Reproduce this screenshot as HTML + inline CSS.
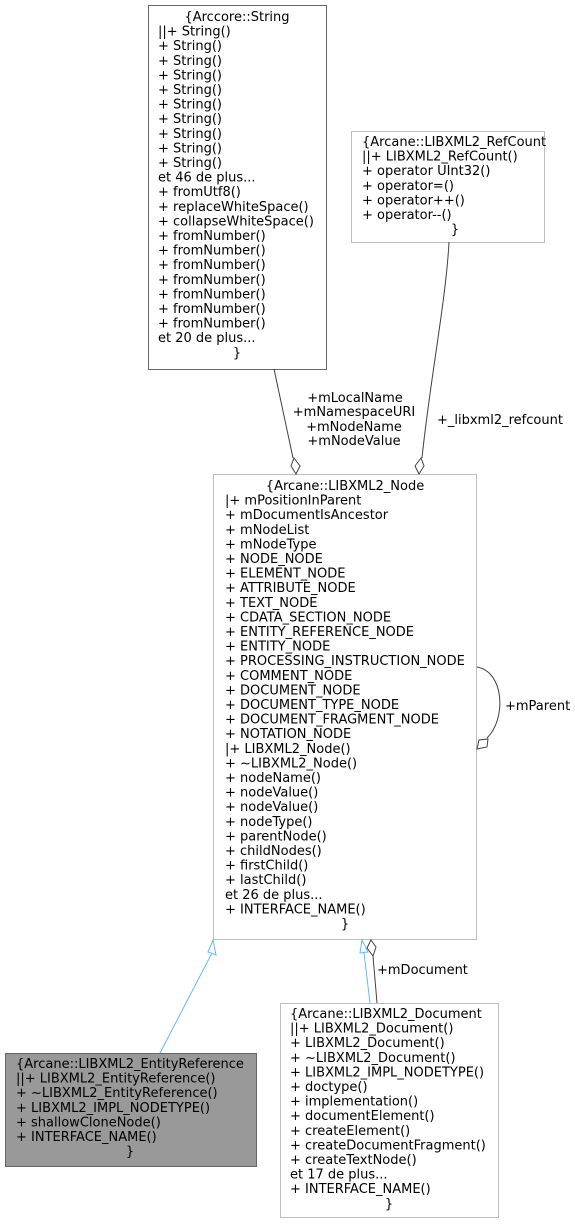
<!DOCTYPE html>
<html><head><meta charset="utf-8"><style>
html,body{margin:0;padding:0;background:#fff;}
svg text{font-family:"DejaVu Sans","Liberation Sans",sans-serif;font-size:13px;fill:#000;}
</style></head><body>
<svg width="575" height="1224" viewBox="0 0 575 1224" xmlns="http://www.w3.org/2000/svg">
<rect x="148.5" y="5.5" width="178" height="364" fill="#fff" stroke="#666"/>
<rect x="351.5" y="131.5" width="193" height="111" fill="#fff" stroke="#bfbfbf"/>
<rect x="213.5" y="474.5" width="263" height="465" fill="#fff" stroke="#bfbfbf"/>
<rect x="5.5" y="1053.5" width="251" height="113" fill="#999" stroke="#666"/>
<rect x="280.5" y="1003.5" width="218" height="214" fill="#fff" stroke="#bfbfbf"/>

<g fill="none" stroke="#404040">
<path d="M274,369 L293,458"/>
<path d="M296,474 L291,466 L294,458 L300,466 Z" fill="#fff"/>
<path d="M449,242 C446,300 430,380 422,458"/>
<path d="M419,474 L415,466 L421,458 L424,466 Z" fill="#fff"/>
<path d="M477,667 C505,672 506,720 487,738"/>
<path d="M477,749 L479,740 L488,739 L487,747 Z" fill="#fff"/>
<path d="M377,1003 L373,956"/>
<path d="M371,940 L376,947 L373,956 L367,948 Z" fill="#fff"/>
</g>
<g fill="none" stroke="#63b8ff">
<path d="M160,1053 L212,953"/>
<path d="M213,940 L208,952 L216,955 Z" fill="#fff"/>
<path d="M370,1003 L364,953"/>
<path d="M362,940 L360,953 L368,952 Z" fill="#fff"/>
</g>

<g text-anchor="middle">
<text x="355" y="402">+mLocalName</text>
<text x="354" y="416">+mNamespaceURI</text>
<text x="354" y="431">+mNodeName</text>
<text x="354" y="445">+mNodeValue</text>
</g>
<text x="437" y="424">+_libxml2_refcount</text>
<text x="505" y="710">+mParent</text>
<text x="377" y="974">+mDocument</text>

<text x="237" y="21" text-anchor="middle">{Arccore::String</text>
<text x="158" y="21"><tspan x="158" dy="14.6">||+ String()</tspan><tspan x="158" dy="14.6">+ String()</tspan><tspan x="158" dy="14.6">+ String()</tspan><tspan x="158" dy="14.6">+ String()</tspan><tspan x="158" dy="14.6">+ String()</tspan><tspan x="158" dy="14.6">+ String()</tspan><tspan x="158" dy="14.6">+ String()</tspan><tspan x="158" dy="14.6">+ String()</tspan><tspan x="158" dy="14.6">+ String()</tspan><tspan x="158" dy="14.6">+ String()</tspan><tspan x="158" dy="14.6">et 46 de plus...</tspan><tspan x="158" dy="14.6">+ fromUtf8()</tspan><tspan x="158" dy="14.6">+ replaceWhiteSpace()</tspan><tspan x="158" dy="14.6">+ collapseWhiteSpace()</tspan><tspan x="158" dy="14.6">+ fromNumber()</tspan><tspan x="158" dy="14.6">+ fromNumber()</tspan><tspan x="158" dy="14.6">+ fromNumber()</tspan><tspan x="158" dy="14.6">+ fromNumber()</tspan><tspan x="158" dy="14.6">+ fromNumber()</tspan><tspan x="158" dy="14.6">+ fromNumber()</tspan><tspan x="158" dy="14.6">+ fromNumber()</tspan><tspan x="158" dy="14.6">et 20 de plus...</tspan><tspan x="237" dy="15" text-anchor="middle">}</tspan></text>

<text x="362" y="146">{Arcane::LIBXML2_RefCount<tspan x="362" dy="14.6">||+ LIBXML2_RefCount()</tspan><tspan x="362" dy="14.6">+ operator UInt32()</tspan><tspan x="362" dy="14.6">+ operator=()</tspan><tspan x="362" dy="14.6">+ operator++()</tspan><tspan x="362" dy="14.6">+ operator--()</tspan><tspan x="455" dy="14.6" text-anchor="middle">}</tspan></text>

<text x="345" y="490" text-anchor="middle">{Arcane::LIBXML2_Node</text>
<text x="225" y="490"><tspan x="225" dy="14.6">|+ mPositionInParent</tspan><tspan x="225" dy="14.6">+ mDocumentIsAncestor</tspan><tspan x="225" dy="14.6">+ mNodeList</tspan><tspan x="225" dy="14.6">+ mNodeType</tspan><tspan x="225" dy="14.6">+ NODE_NODE</tspan><tspan x="225" dy="14.6">+ ELEMENT_NODE</tspan><tspan x="225" dy="14.6">+ ATTRIBUTE_NODE</tspan><tspan x="225" dy="14.6">+ TEXT_NODE</tspan><tspan x="225" dy="14.6">+ CDATA_SECTION_NODE</tspan><tspan x="225" dy="14.6">+ ENTITY_REFERENCE_NODE</tspan><tspan x="225" dy="14.6">+ ENTITY_NODE</tspan><tspan x="225" dy="14.6">+ PROCESSING_INSTRUCTION_NODE</tspan><tspan x="225" dy="14.6">+ COMMENT_NODE</tspan><tspan x="225" dy="14.6">+ DOCUMENT_NODE</tspan><tspan x="225" dy="14.6">+ DOCUMENT_TYPE_NODE</tspan><tspan x="225" dy="14.6">+ DOCUMENT_FRAGMENT_NODE</tspan><tspan x="225" dy="14.6">+ NOTATION_NODE</tspan><tspan x="225" dy="14.6">|+ LIBXML2_Node()</tspan><tspan x="225" dy="14.6">+ ~LIBXML2_Node()</tspan><tspan x="225" dy="14.6">+ nodeName()</tspan><tspan x="225" dy="14.6">+ nodeValue()</tspan><tspan x="225" dy="14.6">+ nodeValue()</tspan><tspan x="225" dy="14.6">+ nodeType()</tspan><tspan x="225" dy="14.6">+ parentNode()</tspan><tspan x="225" dy="14.6">+ childNodes()</tspan><tspan x="225" dy="14.6">+ firstChild()</tspan><tspan x="225" dy="14.6">+ lastChild()</tspan><tspan x="225" dy="14.6">et 26 de plus...</tspan><tspan x="225" dy="14.6">+ INTERFACE_NAME()</tspan><tspan x="345" dy="14.6" text-anchor="middle">}</tspan></text>

<text x="16" y="1068">{Arcane::LIBXML2_EntityReference<tspan x="16" dy="14.6">||+ LIBXML2_EntityReference()</tspan><tspan x="16" dy="14.6">+ ~LIBXML2_EntityReference()</tspan><tspan x="16" dy="14.6">+ LIBXML2_IMPL_NODETYPE()</tspan><tspan x="16" dy="14.6">+ shallowCloneNode()</tspan><tspan x="16" dy="14.6">+ INTERFACE_NAME()</tspan><tspan x="130" dy="14.6" text-anchor="middle">}</tspan></text>

<text x="290" y="1018">{Arcane::LIBXML2_Document<tspan x="290" dy="14.6">||+ LIBXML2_Document()</tspan><tspan x="290" dy="14.6">+ LIBXML2_Document()</tspan><tspan x="290" dy="14.6">+ ~LIBXML2_Document()</tspan><tspan x="290" dy="14.6">+ LIBXML2_IMPL_NODETYPE()</tspan><tspan x="290" dy="14.6">+ doctype()</tspan><tspan x="290" dy="14.6">+ implementation()</tspan><tspan x="290" dy="14.6">+ documentElement()</tspan><tspan x="290" dy="14.6">+ createElement()</tspan><tspan x="290" dy="14.6">+ createDocumentFragment()</tspan><tspan x="290" dy="14.6">+ createTextNode()</tspan><tspan x="290" dy="14.6">et 17 de plus...</tspan><tspan x="290" dy="14.6">+ INTERFACE_NAME()</tspan><tspan x="389" dy="14.6" text-anchor="middle">}</tspan></text>
</svg>
</body></html>
